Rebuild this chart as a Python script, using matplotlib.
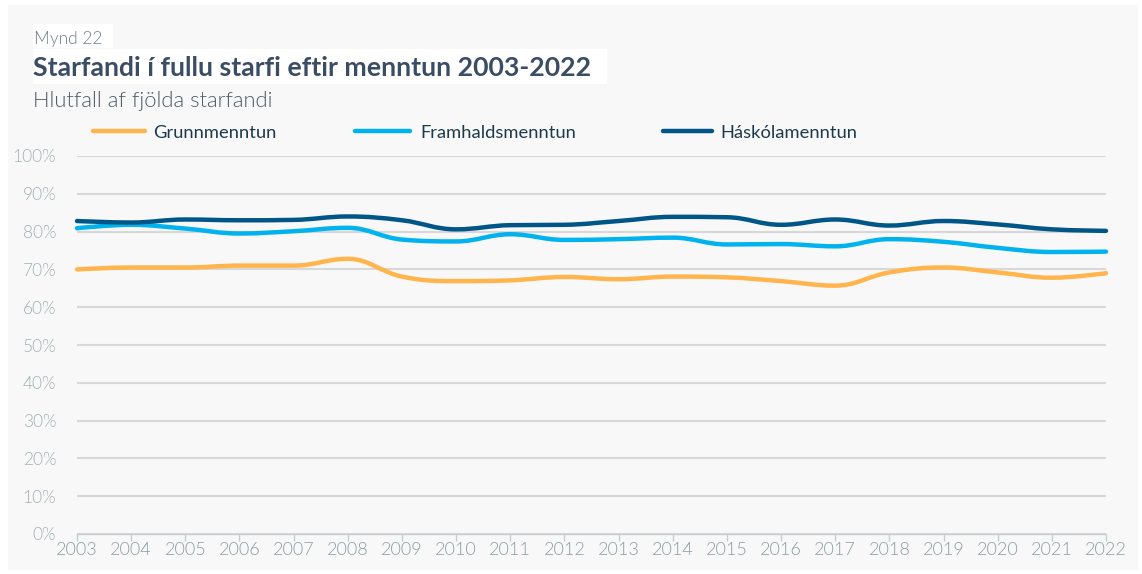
import matplotlib
matplotlib.use("Agg")
import matplotlib.pyplot as plt
from matplotlib.path import Path
from matplotlib.patches import PathPatch, Rectangle
from matplotlib.lines import Line2D
from matplotlib.ticker import FuncFormatter, MultipleLocator

years = list(range(2003, 2023))
grunn = [70.0, 70.5, 70.5, 71.0, 71.0, 72.8, 68.1, 66.9, 67.1, 68.0,
         67.4, 68.1, 67.9, 66.9, 65.7, 69.2, 70.5, 69.2, 67.8, 69.0]
framhald = [80.9, 81.8, 80.8, 79.5, 80.1, 81.0, 77.9, 77.4, 79.3, 77.8,
            78.0, 78.4, 76.6, 76.7, 76.1, 78.0, 77.3, 75.7, 74.6, 74.7]
haskoli = [82.8, 82.4, 83.2, 83.0, 83.1, 84.0, 83.0, 80.6, 81.7, 81.8,
           82.8, 83.9, 83.8, 81.8, 83.2, 81.6, 82.8, 81.9, 80.6, 80.2]
series_names = ["Grunnmenntun", "Framhaldsmenntun", "Háskólamenntun"]
series_values = [grunn, framhald, haskoli]
colors = ["#ffb54c", "#00b3ee", "#005687"]

W, H = 1142, 574
fig = plt.figure(figsize=(W / 100, H / 100), dpi=100)
fig.patch.set_facecolor("white")

def fx(px):
    return px / W

def fy(py):
    return 1 - py / H

LIGHT = 300

# grey panel
fig.add_artist(Rectangle((fx(8), fy(570)), fx(1138) - fx(8), fy(5) - fy(570),
                         transform=fig.transFigure, facecolor="#f8f8f8",
                         edgecolor="none", zorder=0))
# white boxes behind label and title
fig.add_artist(Rectangle((fx(33), fy(48)), fx(113) - fx(33), fy(24) - fy(48),
                         transform=fig.transFigure, facecolor="white",
                         edgecolor="none", zorder=1))
fig.add_artist(Rectangle((fx(33), fy(84)), fx(607) - fx(33), fy(49) - fy(84),
                         transform=fig.transFigure, facecolor="white",
                         edgecolor="none", zorder=1))

fig.text(fx(34), fy(44), "Mynd 22", family="Lato", weight=LIGHT,
         fontsize=12.5, color="#6f8088", va="baseline", ha="left", zorder=2)
fig.text(fx(33), fy(76), "Starfandi í fullu starfi eftir menntun 2003-2022",
         family="Lato", weight="bold", fontsize=19.2, color="#3b4d64",
         va="baseline", ha="left", zorder=2)
fig.text(fx(33), fy(107), "Hlutfall af fjölda starfandi", family="Lato",
         weight=LIGHT, fontsize=15.8, color="#4b5b68", va="baseline",
         ha="left", zorder=2)

# legend (manual)
leg_items = [(93, 145, 153), (355, 410, 420), (663, 712, 720)]
for (x0, x1, xt), name, c in zip(leg_items, series_names, colors):
    fig.add_artist(Line2D([fx(x0), fx(x1)], [fy(131), fy(131)],
                          transform=fig.transFigure, color=c, lw=3.2,
                          solid_capstyle="round", zorder=2))
    fig.text(fx(xt), fy(131), name, family="Lato", fontsize=13.2,
             color="#1d3a4c", va="center_baseline", ha="left", zorder=2)

ax = fig.add_axes([fx(77), fy(534), fx(1106) - fx(77), fy(156) - fy(534)])
ax.set_facecolor("none")
ax.set_xlim(2003, 2022)
ax.set_ylim(0, 100)
ax.yaxis.set_major_locator(MultipleLocator(10))
ax.yaxis.set_major_formatter(FuncFormatter(lambda v, p: f"{int(round(v))}%"))
ax.set_xticks(years)
ax.set_xticklabels([str(y) for y in years])
for s in ["top", "right", "left"]:
    ax.spines[s].set_visible(False)
ax.spines["bottom"].set_color("#c6ccd0")
ax.spines["bottom"].set_linewidth(1.0)
ax.grid(axis="y", color="#d8d8d8", lw=1.5)
ax.set_axisbelow(True)
ax.tick_params(axis="y", length=0, pad=15, labelsize=12.5, labelcolor="#a3b1b6")
ax.tick_params(axis="x", length=5, width=1, color="#c6ccd0", direction="out",
               pad=1, labelsize=13, labelcolor="#8b9ea5")
for lab in ax.get_xticklabels() + ax.get_yticklabels():
    lab.set_family("Lato")
    lab.set_weight(LIGHT)


def spline_path(xs, ys, smoothing=1.5):
    n = len(xs)
    denom = smoothing + 1
    lc = [None] * n
    rc = [None] * n
    for i in range(n):
        if i == 0 or i == n - 1:
            lc[i] = (xs[i], ys[i])
            rc[i] = (xs[i], ys[i])
            continue
        lx = (smoothing * xs[i] + xs[i - 1]) / denom
        ly = (smoothing * ys[i] + ys[i - 1]) / denom
        rx = (smoothing * xs[i] + xs[i + 1]) / denom
        ry = (smoothing * ys[i] + ys[i + 1]) / denom
        corr = ((ry - ly) * (rx - xs[i])) / (rx - lx) + ys[i] - ry
        ly += corr
        ry += corr
        if ly > ys[i - 1] and ly > ys[i]:
            ly = max(ys[i - 1], ys[i]); ry = 2 * ys[i] - ly
        elif ly < ys[i - 1] and ly < ys[i]:
            ly = min(ys[i - 1], ys[i]); ry = 2 * ys[i] - ly
        if ry > ys[i + 1] and ry > ys[i]:
            ry = max(ys[i + 1], ys[i]); ly = 2 * ys[i] - ry
        elif ry < ys[i + 1] and ry < ys[i]:
            ry = min(ys[i + 1], ys[i]); ly = 2 * ys[i] - ry
        lc[i] = (lx, ly)
        rc[i] = (rx, ry)
    verts = [(xs[0], ys[0])]
    codes = [Path.MOVETO]
    for i in range(1, n):
        verts += [rc[i - 1], lc[i], (xs[i], ys[i])]
        codes += [Path.CURVE4] * 3
    return Path(verts, codes)


for vals, c in zip(series_values, colors):
    p = spline_path(years, vals)
    ax.add_patch(PathPatch(p, facecolor="none", edgecolor=c, lw=3.2,
                           capstyle="round", joinstyle="round", zorder=3,
                           clip_on=False))

fig.savefig("out.png", dpi=100, facecolor=fig.get_facecolor())
